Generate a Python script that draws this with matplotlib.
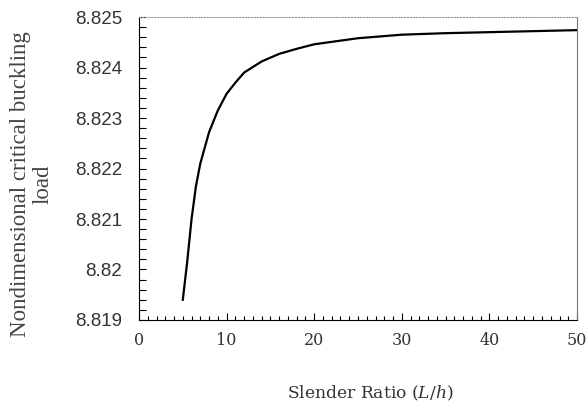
import matplotlib
matplotlib.use("Agg")
import matplotlib.pyplot as plt
from matplotlib.ticker import MultipleLocator, FuncFormatter

# slender ratio L/h and nondimensional critical buckling load
slender_ratio = [5, 5.5, 6, 6.5, 7, 8, 9, 10, 11, 12, 14, 16, 18, 20, 25, 30, 35, 40, 45, 50]
buckling_load = [8.8194, 8.82015, 8.8210, 8.82165, 8.8221, 8.82272, 8.82315, 8.82348,
                 8.8237, 8.8239, 8.82412, 8.82427, 8.82437, 8.82446, 8.82458,
                 8.82465, 8.82468, 8.8247, 8.82472, 8.82474]

X_TICKS = [0, 10, 20, 30, 40, 50]
Y_TICKS = [8.819, 8.820, 8.821, 8.822, 8.823, 8.824, 8.825]

plt.rcParams["font.family"] = ["DejaVu Serif"]
plt.rcParams["mathtext.fontset"] = "dejavuserif"

TEXT = "#333333"

fig = plt.figure(figsize=(5.87, 4.08), dpi=100)
ax = fig.add_axes([0.2368, 0.2157, 0.983 - 0.2368, 0.9583 - 0.2157])

ax.plot(slender_ratio, buckling_load, color="black", linewidth=1.6)

ax.set_xlim(0, 50)
ax.set_ylim(8.819, 8.825)
ax.set_xticks(X_TICKS)
ax.set_yticks(Y_TICKS)
ax.xaxis.set_minor_locator(MultipleLocator(1))
ax.yaxis.set_minor_locator(MultipleLocator(0.0002))
ax.yaxis.set_major_formatter(FuncFormatter(lambda v, p: "%g" % round(v, 4)))

ax.tick_params(axis="both", which="both", direction="in", color="black",
               labelcolor=TEXT)
ax.tick_params(axis="x", which="major", length=5, width=0.8, pad=9, labelsize=11.5)
ax.tick_params(axis="x", which="minor", length=3, width=0.8)
ax.tick_params(axis="y", which="major", length=5, width=0.8, pad=12, labelsize=13.5)
ax.tick_params(axis="y", which="minor", length=5, width=0.8)
for lab in ax.get_yticklabels():
    lab.set_fontfamily("Liberation Sans")

ax.spines["left"].set_color("black")
ax.spines["bottom"].set_color("black")
ax.spines["right"].set_color("#777777")
ax.spines["top"].set_color("#999999")
ax.spines["top"].set_linestyle(":")
for s in ax.spines.values():
    s.set_linewidth(0.8)

ax.set_xlabel("Slender Ratio ($L/h$)", fontsize=12.3, color=TEXT, va="center")
ax.xaxis.set_label_coords(0.528, -0.241)

ax.set_ylabel("Nondimensional critical buckling\nload", fontsize=16.5,
              color="#444444", fontfamily="Liberation Serif", linespacing=1.1,
              va="center")
ax.yaxis.set_label_coords(-0.244, 0.449)

fig.savefig("out.png", dpi=100)
